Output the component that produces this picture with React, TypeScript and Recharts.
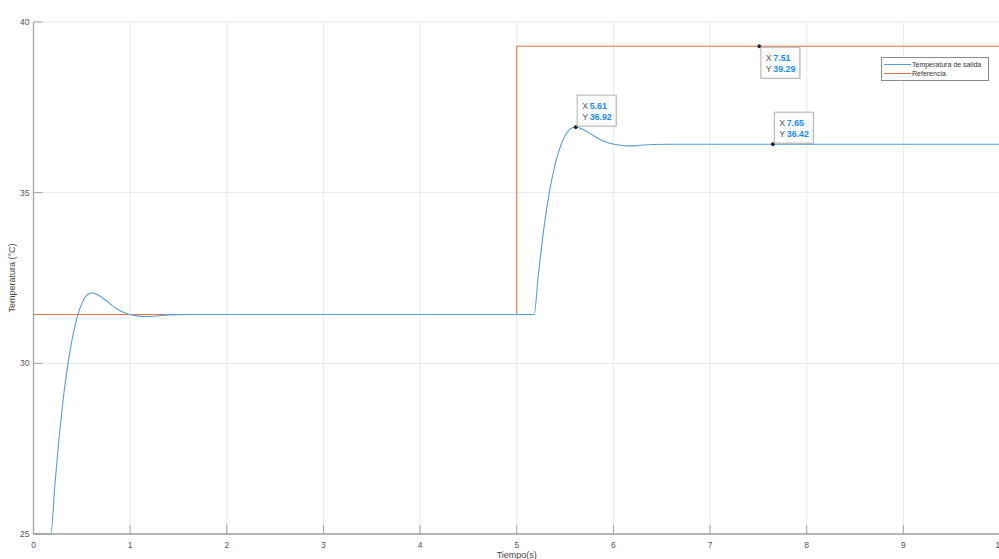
import React from 'react';
import { LineChart, Line, XAxis, YAxis, CartesianGrid, ReferenceDot, Legend } from 'recharts';

// ---- data ----
const tiempoSalida = [
  0, 0.18, 0.22, 0.26, 0.3, 0.34, 0.38, 0.42, 0.46, 0.5, 0.54, 0.575, 0.61, 0.67, 0.76, 0.86, 0.96,
  1.07, 1.15, 1.25, 1.4, 1.6, 2.0, 3.0, 4.0, 5.0, 5.18, 5.22, 5.26, 5.3, 5.34, 5.38, 5.42, 5.46,
  5.5, 5.54, 5.575, 5.61, 5.67, 5.76, 5.86, 5.96, 6.07, 6.15, 6.25, 6.4, 6.6, 7.0, 8.0, 9.0, 10.0,
];
const temperaturaSalida = [
  25, 25, 26.4, 27.68, 28.77, 29.67, 30.4, 30.98, 31.43, 31.75, 31.96, 32.04, 32.07, 32.0, 31.82,
  31.6, 31.46, 31.39, 31.37, 31.38, 31.42, 31.43, 31.43, 31.43, 31.43, 31.43, 31.43, 32.5, 33.5, 34.35,
  35.05, 35.62, 36.07, 36.42, 36.67, 36.83, 36.9, 36.92, 36.87, 36.73, 36.56, 36.45, 36.39, 36.37,
  36.38, 36.41, 36.42, 36.42, 36.42, 36.42, 36.42,
];
const tiempoReferencia = [0, 5, 5, 10];
const valorReferencia = [31.43, 31.43, 39.29, 39.29];

const xTicks = [0, 1, 2, 3, 4, 5, 6, 7, 8, 9, 10];
const yTicks = [25, 30, 35, 40];

const tipX = [5.61, 7.65, 7.51];
const tipY = [36.92, 36.42, 39.29];
const tipBelow = [false, false, true];

const seriesNames = ['Temperatura de salida', 'Referencia'];
const titulo = 'Temperatura de salida frente a referencia';
const etiquetaX = 'Tiempo(s)';
const etiquetaY = 'Temperatura (°C)';

const salidaData = tiempoSalida.map((t, i) => ({ t, v: temperaturaSalida[i] }));
const referenciaData = tiempoReferencia.map((t, i) => ({ t, v: valorReferencia[i] }));

// ---- styles ----
const FONT = '"Liberation Sans", Arial, Helvetica, sans-serif';
const BLUE = '#539fdc';
const ORANGE = '#e2703d';
const AXIS = '#a2a2a2';
const GRID = '#e9e9e9';
const TICKTEXT = '#555555';

const XTick = (props: any) => {
  const { x, y, payload } = props;
  return (
    <g>
      <line x1={x} x2={x} y1={y} y2={y - 9} stroke={AXIS} strokeWidth={1} />
      <text x={x} y={y + 14} textAnchor="middle" fontSize={8.5} fontFamily={FONT} fill={TICKTEXT}>
        {payload.value}
      </text>
    </g>
  );
};

const YTick = (props: any) => {
  const { x, y, payload } = props;
  return (
    <g>
      <line x1={x} x2={x + 9} y1={y} y2={y} stroke={AXIS} strokeWidth={1} />
      <text x={x - 4} y={y + 3} textAnchor="end" fontSize={8.5} fontFamily={FONT} fill={TICKTEXT}>
        {payload.value}
      </text>
    </g>
  );
};

const DataTip = ({ viewBox, xv, yv, below }: any) => {
  const cx = viewBox.x + viewBox.width / 2;
  const cy = viewBox.y + viewBox.height / 2;
  const w = 39;
  const h = 31;
  const bx = cx + 1.5;
  const by = below ? cy + 1 : cy - h - 1;
  return (
    <g>
      <rect x={bx + 1} y={by + 1} width={w} height={h} fill="#000" fillOpacity={0.07} />
      <rect x={bx} y={by} width={w} height={h} fill="#fcfcfc" fillOpacity={0.95} stroke="#b0b0b0" strokeWidth={1} />
      <text x={bx + 5} y={by + 13.5} fontSize={8.8} fontFamily={FONT} fill="#5a5a5a">
        X
        <tspan x={bx + 12.5} fill="#1a8cff" fontWeight="bold">{xv.toFixed(2)}</tspan>
      </text>
      <text x={bx + 5} y={by + 25} fontSize={8.8} fontFamily={FONT} fill="#5a5a5a">
        Y
        <tspan x={bx + 12.5} fill="#1a8cff" fontWeight="bold">{yv.toFixed(2)}</tspan>
      </text>
    </g>
  );
};

const LegendBox = () => (
  <div
    style={{
      position: 'relative',
      width: 108,
      height: 24,
      boxSizing: 'border-box',
      border: '1px solid #8a8a8a',
      background: '#fff',
      fontFamily: FONT,
      fontSize: 7,
      color: '#333',
    }}
  >
    {seriesNames.map((name, i) => (
      <div key={name} style={{ position: 'absolute', left: 1, top: 2 + i * 9.3, height: 9, display: 'flex', alignItems: 'center' }}>
        <svg width={28} height={9} style={{ display: 'block' }}>
          <line x1={1} x2={28} y1={4.5} y2={4.5} stroke={i === 0 ? BLUE : ORANGE} strokeWidth={1} />
        </svg>
        <span style={{ marginLeft: 1, whiteSpace: 'nowrap', lineHeight: '9px' }}>{name}</span>
      </div>
    ))}
  </div>
);

export default function App() {
  return (
    <div style={{ position: 'absolute', left: 0, top: 0, width: 999, height: 559, overflow: 'hidden', background: '#fff' }}>
      <LineChart width={1030} height={559} margin={{ top: 22, right: 30, bottom: 0, left: 0 }}>
        <CartesianGrid stroke={GRID} strokeWidth={1} />
        <XAxis
          dataKey="t"
          type="number"
          domain={[0, 10]}
          ticks={xTicks}
          interval={0}
          height={25}
          allowDuplicatedCategory={false}
          tickSize={0}
          tickMargin={0}
          tickLine={false}
          axisLine={{ stroke: AXIS, strokeWidth: 1.3 }}
          tick={<XTick />}
          label={{
            content: (p: any) => {
              const vb = p.viewBox;
              return (
                <text x={vb.x + vb.width / 2} y={vb.y + 23.5} textAnchor="middle" fontSize={9} fontFamily={FONT} fill="#444">
                  {etiquetaX}
                </text>
              );
            },
          }}
        />
        <XAxis
          xAxisId="top"
          orientation="top"
          type="number"
          domain={[0, 10]}
          height={0}
          tick={false}
          tickLine={false}
          axisLine={{ stroke: AXIS, strokeWidth: 1.3 }}
          label={{
            content: (p: any) => {
              const vb = p.viewBox;
              return (
                <text x={vb.x + vb.width / 2} y={17} textAnchor="middle" fontSize={8.5} fontWeight="bold" fontFamily={FONT} fill="#222">
                  {titulo}
                </text>
              );
            },
          }}
        />
        <YAxis
          type="number"
          domain={[25, 40]}
          ticks={yTicks}
          interval={0}
          width={33.5}
          tickSize={0}
          tickMargin={0}
          tickLine={false}
          axisLine={{ stroke: AXIS, strokeWidth: 1.3 }}
          tick={<YTick />}
          label={{
            content: (p: any) => {
              const vb = p.viewBox;
              const cy = vb.y + vb.height / 2;
              return (
                <text x={15} y={cy} transform={`rotate(-90 15 ${cy})`} textAnchor="middle" fontSize={9} fontFamily={FONT} fill="#444">
                  {etiquetaY}
                </text>
              );
            },
          }}
        />
        <Line data={referenciaData} dataKey="v" type="linear" stroke={ORANGE} strokeWidth={1} dot={false} isAnimationActive={false} />
        <Line data={salidaData} dataKey="v" type="monotone" stroke={BLUE} strokeWidth={1.1} dot={false} isAnimationActive={false} />
        {tipX.map((xv, i) => (
          <ReferenceDot
            key={i}
            x={xv}
            y={tipY[i]}
            r={1.5}
            fill="#222"
            stroke="#222"
            label={(p: any) => <DataTip viewBox={p.viewBox} xv={xv} yv={tipY[i]} below={tipBelow[i]} />}
          />
        ))}
        <Legend
          layout="vertical"
          align="center"
          verticalAlign="middle"
          wrapperStyle={{ position: 'absolute', left: 881, top: 57, width: 108, height: 24 }}
          content={() => <LegendBox />}
        />
      </LineChart>
    </div>
  );
}
